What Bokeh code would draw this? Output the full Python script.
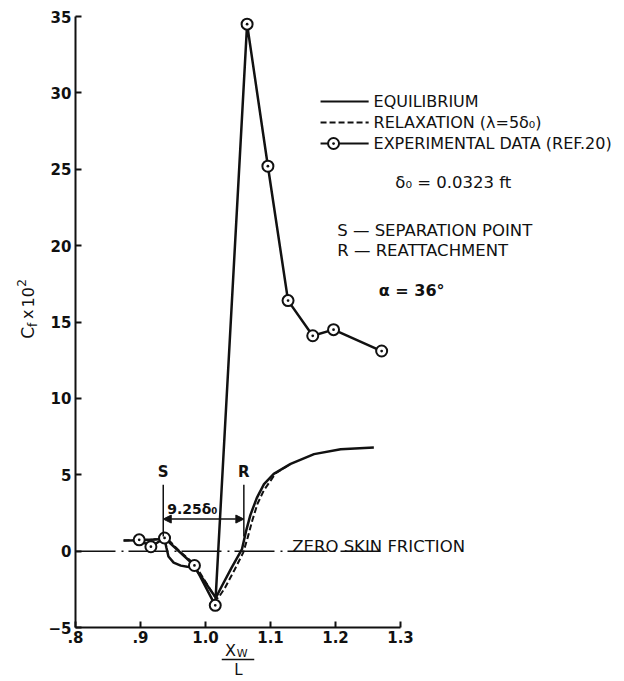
import math
from bokeh.plotting import figure
from bokeh.models import Range1d, FixedTicker, Label, Arrow, NormalHead
from bokeh.core.properties import value
from bokeh.embed import file_html
from bokeh.resources import INLINE

# --- data -------------------------------------------------------------
# experimental skin friction, Cf x 10^2 (ref. 20)
exp_x = [0.898, 0.916, 0.937, 0.983, 1.015, 1.064, 1.096, 1.127, 1.165, 1.197, 1.271]
exp_cf = [0.74, 0.29, 0.86, -0.94, -3.55, 34.5, 25.2, 16.4, 14.1, 14.5, 13.1]

# equilibrium calculation
eq_x = [0.874, 0.900, 0.920, 0.937, 0.940, 0.943, 0.951, 0.962, 0.972, 0.983,
        0.997, 1.010, 1.016, 1.025, 1.040, 1.056, 1.062, 1.069, 1.079, 1.090,
        1.105, 1.131, 1.167, 1.208, 1.259]
eq_cf = [0.70, 0.72, 0.76, 0.80, 0.20, -0.35, -0.75, -0.95, -1.02, -1.07,
         -1.88, -2.69, -3.05, -2.30, -1.10, 0.11, 1.24, 2.36, 3.49, 4.39,
         5.06, 5.71, 6.35, 6.67, 6.79]

# relaxation calculation (lambda = 5 delta_0)
rx_x = [0.874, 0.900, 0.920, 0.937, 0.944, 0.960, 0.983, 1.000, 1.013, 1.019,
        1.030, 1.045, 1.058, 1.065, 1.072, 1.080, 1.090, 1.100, 1.108, 1.131]
rx_cf = [0.70, 0.72, 0.76, 0.80, 0.70, 0.00, -0.85, -2.00, -2.90, -3.10,
         -2.40, -1.20, -0.10, 0.90, 2.00, 3.10, 4.00, 4.60, 5.10, 5.71]

sep_x = 0.935      # separation point S
reatt_x = 1.059    # reattachment point R
zero_x = [0.80, 1.274]

x_ticks = [0.8, 0.9, 1.0, 1.1, 1.2, 1.3]
x_tick_labels = [".8", ".9", "1.0", "1.1", "1.2", "1.3"]
y_ticks = [-5, 0, 5, 10, 15, 20, 25, 30, 35]

FONT = "DejaVu Sans"
INK = "#111111"

# the frame fills the page; the axes sit at fixed data locations inside it
p = figure(width=624, height=681, output_backend="svg", toolbar_location=None,
           x_range=Range1d(0.68462, 1.64462), y_range=Range1d(-8.535, 36.048),
           min_border=0)
p.outline_line_color = None
p.grid.visible = False
p.background_fill_color = "white"
p.border_fill_color = "white"

for ax in (p.xaxis[0], p.yaxis[0]):
    ax.axis_line_width = 2
    ax.axis_line_color = INK
    ax.major_tick_in = 6
    ax.major_tick_out = 0
    ax.major_tick_line_width = 2
    ax.major_tick_line_color = INK
    ax.minor_tick_line_color = None
    ax.major_label_text_font = FONT
    ax.major_label_text_font_style = "bold"
    ax.major_label_text_font_size = "15px"
    ax.major_label_text_color = INK

p.xaxis.fixed_location = -5
p.xaxis.bounds = (0.8, 1.3)
p.xaxis.ticker = FixedTicker(ticks=x_ticks)
p.xaxis.major_label_overrides = {t: s for t, s in zip(x_ticks, x_tick_labels)}
p.xaxis.major_label_standoff = 3
p.yaxis.fixed_location = 0.8
p.yaxis.bounds = (-5, 35)
p.yaxis.ticker = FixedTicker(ticks=y_ticks)
p.yaxis.major_label_standoff = 4

# zero skin friction reference line
p.line(zero_x, [0, 0], line_color=INK, line_width=1.5, line_dash="40 6 2 5")
p.text([1.1334], [0.3], text=["ZERO SKIN FRICTION"], text_font=value(FONT),
       text_font_size="16.5px", text_baseline="alphabetic", text_color=INK)

# computed curves
p.line(rx_x, rx_cf, line_color=INK, line_width=2, line_dash="6 3")
p.line(eq_x, eq_cf, line_color=INK, line_width=2.5)

# experiment
p.line(exp_x, exp_cf, line_color=INK, line_width=2.5)
p.scatter(exp_x, exp_cf, marker="circle_dot", size=11, line_color=INK,
          line_width=2, fill_color="white")

# separation / reattachment markers
for xm, lab in ((sep_x, "S"), (reatt_x, "R")):
    p.line([xm, xm], [0.95, 4.35], line_color=INK, line_width=1.5)
    p.text([xm], [5.2], text=[lab], text_font=value(FONT), text_font_size="15px",
           text_font_style="bold", text_align="center", text_baseline="middle",
           text_color=INK)
p.add_layout(Arrow(start=NormalHead(size=8, fill_color=INK, line_color=INK),
                   end=NormalHead(size=8, fill_color=INK, line_color=INK),
                   x_start=sep_x, y_start=2.1, x_end=reatt_x, y_end=2.1,
                   line_width=1.5, line_color=INK))
p.text([0.941], [2.75], text=["9.25δ₀"], text_font=value(FONT),
       text_font_size="14px", text_font_style="bold", text_baseline="alphabetic",
       text_color=INK)

# legend
leg_x0, leg_x1, leg_tx = 1.177, 1.251, 1.2585
leg_y = [29.436, 28.061, 26.686]
p.line([leg_x0, leg_x1], [leg_y[0]] * 2, line_color=INK, line_width=2)
p.line([leg_x0, leg_x1], [leg_y[1]] * 2, line_color=INK, line_width=2, line_dash="6 3")
p.line([leg_x0, leg_x1], [leg_y[2]] * 2, line_color=INK, line_width=2)
p.scatter([1.197], [leg_y[2]], marker="circle_dot", size=11, line_color=INK,
          line_width=2, fill_color="white")
p.text([leg_tx] * 3, leg_y,
       text=["EQUILIBRIUM", "RELAXATION (λ=5δ₀)", "EXPERIMENTAL DATA (REF.20)"],
       text_font=value(FONT), text_font_size="16px", text_baseline="middle",
       text_color=INK)

p.text([1.292], [24.13], text=["δ₀ = 0.0323 ft"], text_font=value(FONT),
       text_font_size="16.5px", text_baseline="middle", text_color=INK)
p.text([1.2026, 1.2026], [20.99, 19.68],
       text=["S — SEPARATION POINT", "R — REATTACHMENT"], text_font=value(FONT),
       text_font_size="16.5px", text_baseline="middle", text_color=INK)
p.text([1.2666], [17.06], text=["α = 36°"], text_font=value(FONT),
       text_font_size="16px", text_font_style="bold", text_baseline="middle",
       text_color=INK)

# axis titles built from pieces (subscripts / superscripts)
def lab(x, y, t, size, **kw):
    p.add_layout(Label(x=x, y=y, text=t, text_font=FONT, text_font_size=size,
                       text_color=INK, **kw))

ylx = 0.7262
rot = dict(angle=math.pi / 2, text_align="left", text_baseline="middle")
lab(ylx, 13.9, "C", "17px", **rot)
lab(ylx, 14.68, "f", "12px", x_offset=5, **rot)
lab(ylx, 15.2, "x", "16px", **rot)
lab(ylx, 15.95, "10", "16px", **rot)
lab(ylx, 17.3, "2", "12px", x_offset=-6, **rot)

lab(1.047, -6.505, "X", "16px", text_align="right", text_baseline="middle")
lab(1.048, -6.7, "W", "11px", text_align="left", text_baseline="middle")
p.add_layout(Arrow(end=None, x_start=1.025, x_end=1.075, y_start=-7.09,
                   y_end=-7.09, line_width=1.5, line_color=INK))
lab(1.0505, -7.78, "L", "15px", text_align="center", text_baseline="middle")

open("out.html", "w").write(file_html(p, INLINE))
